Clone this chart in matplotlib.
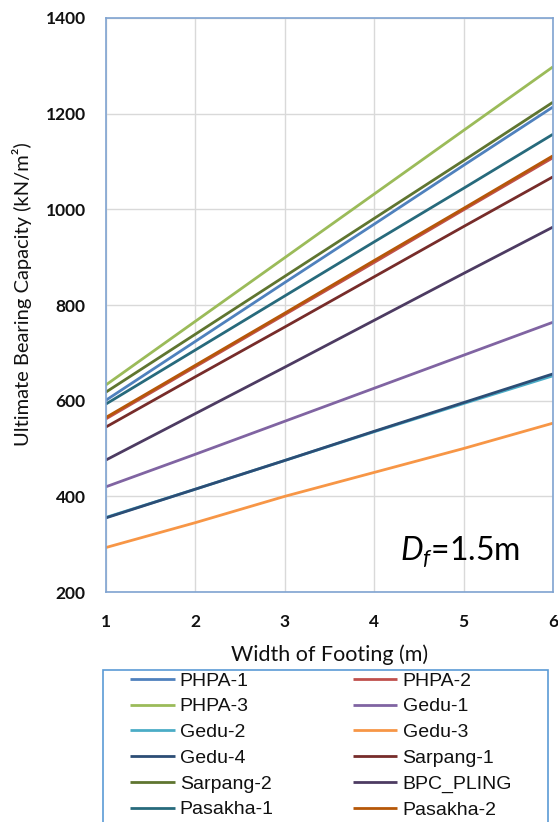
import matplotlib
matplotlib.use("Agg")
import matplotlib.pyplot as plt
from matplotlib.patches import Rectangle

# ---------------- data
width = [1, 2, 3, 4, 5, 6]

phpa_1 = [601, 724, 847, 969, 1092, 1214]
phpa_2 = [562, 671, 780, 889, 999, 1108]
phpa_3 = [633, 766, 899, 1032, 1165, 1298]
gedu_1 = [420, 488, 557, 626, 695, 764]
gedu_2 = [356, 415, 475, 535, 594, 652]
gedu_3 = [293, 345, 400, 450, 500, 553]
gedu_4 = [355, 415, 475, 536, 596, 656]
sarpang_1 = [545, 650, 754, 859, 964, 1068]
sarpang_2 = [618, 739, 860, 981, 1102, 1224]
bpc_pling = [476, 573, 670, 768, 866, 963]
pasakha_1 = [593, 706, 819, 932, 1044, 1157]
pasakha_2 = [565, 674, 783, 893, 1002, 1112]

names = ["PHPA-1", "PHPA-2", "PHPA-3", "Gedu-1", "Gedu-2", "Gedu-3",
         "Gedu-4", "Sarpang-1", "Sarpang-2", "BPC_PLING", "Pasakha-1", "Pasakha-2"]
series = [phpa_1, phpa_2, phpa_3, gedu_1, gedu_2, gedu_3,
          gedu_4, sarpang_1, sarpang_2, bpc_pling, pasakha_1, pasakha_2]
colors = ["#4F81BD", "#C0504D", "#9BBB59", "#8064A2", "#4BACC6", "#F79646",
          "#2C4D75", "#772C2A", "#5F7530", "#4D3B62", "#276A7C", "#B65708"]

plt.rcParams['mathtext.fontset'] = 'custom'
plt.rcParams['mathtext.rm'] = 'Lato'
plt.rcParams['mathtext.it'] = 'Lato:italic'

fig = plt.figure(figsize=(5.58, 8.22), dpi=100)
ax = fig.add_axes([106/558, 1-592/822, (553-106)/558, (592-18)/822])

lines = []
for name, vals, c in zip(names, series, colors):
    ln, = ax.plot(width, vals, color=c, linewidth=2.0, label=name, solid_capstyle='butt')
    lines.append(ln)

ax.set_xlim(1, 6)
ax.set_ylim(200, 1400)
ax.set_xticks(range(1, 7))
ax.set_yticks(range(200, 1401, 200))
ax.grid(True, color="#D9D9D9", linewidth=1.0)
ax.set_axisbelow(True)
for s in ax.spines.values():
    s.set_color("#7FA3D1")
    s.set_linewidth(1.2)
ax.tick_params(length=0, labelsize=12.5, colors="#111111")
ax.tick_params(axis='y', pad=14.5)
ax.tick_params(axis='x', pad=16)
for lab in ax.get_xticklabels() + ax.get_yticklabels():
    lab.set_fontfamily("Lato")
    lab.set_fontweight("bold")

ax.set_xlabel("Width of Footing (m)", fontsize=15.5, fontfamily="Lato",
              color="#111111", labelpad=10)
ax.set_ylabel("Ultimate Bearing Capacity (kN/m²)", fontsize=14.5, fontfamily="Lato",
              color="#111111")
ax.yaxis.set_label_coords((32-106)/447, (592-294)/574)

ax.text((520-106)/447, 0.056, r"$\mathit{D_f}$=1.5m", transform=ax.transAxes,
        fontsize=23, fontfamily="Lato", ha="right", va="baseline", color="black")

# legend filled row by row like the original
order = [0, 2, 4, 6, 8, 10, 1, 3, 5, 7, 9, 11]
leg = fig.legend([lines[i] for i in order], [names[i] for i in order],
                 loc="upper left", bbox_to_anchor=(130/558, 0, (512-130)/558, 1-672/822),
                 mode="expand", ncol=2, handlelength=2.3, handletextpad=0.26,
                 labelspacing=0.42, borderpad=0, borderaxespad=0, frameon=False,
                 prop={"family": "Liberation Sans", "size": 14})
for t in leg.get_texts():
    t.set_color("#111111")

fig.patches.append(Rectangle((103/558, -0.02), (548-103)/558, 0.02 + 1-670/822,
                             transform=fig.transFigure, fill=False,
                             edgecolor="#5B9BD5", linewidth=1.2))

fig.savefig("out.png", dpi=100)
